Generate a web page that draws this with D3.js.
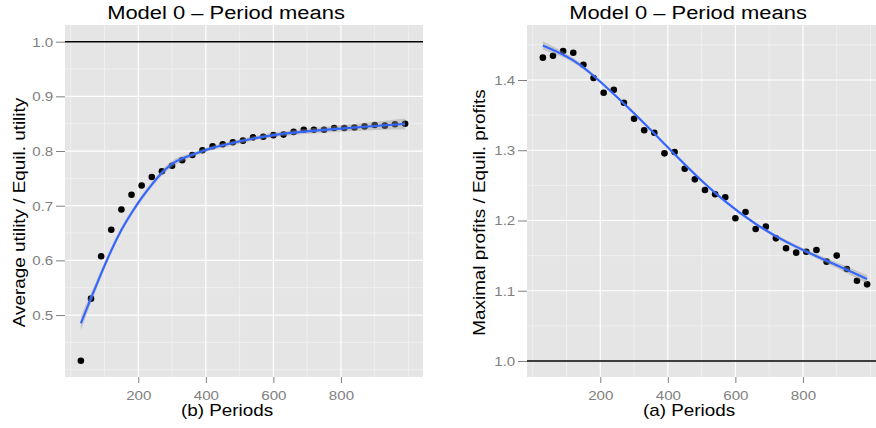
<!DOCTYPE html>
<html>
<head>
<meta charset="utf-8">
<script src="https://cdn.jsdelivr.net/npm/d3@7/dist/d3.min.js"></script>
<style>
  html, body { margin: 0; padding: 0; background: #fff; }
  svg { display: block; font-family: "Liberation Sans", Arial, Helvetica, sans-serif; }
</style>
</head>
<body>
<svg id="chart" width="876" height="428"></svg>
<script>
// ---------- data ----------
const periods = [30, 60, 90, 120, 150, 180, 210, 240, 270, 300, 330, 360, 390, 420, 450, 480, 510,
                 540, 570, 600, 630, 660, 690, 720, 750, 780, 810, 840, 870, 900, 930, 960, 990];

const utility = [0.4165, 0.530, 0.6075, 0.656, 0.693, 0.720, 0.737, 0.7525, 0.763, 0.773, 0.783,
                 0.7928, 0.8014, 0.8087, 0.8123, 0.816, 0.819, 0.825, 0.826, 0.829, 0.830, 0.835,
                 0.839, 0.839, 0.839, 0.842, 0.842, 0.843, 0.845, 0.8476, 0.8464, 0.849, 0.850];

const profits = [1.4318, 1.4346, 1.4413, 1.4389, 1.4218, 1.4028, 1.3819, 1.3862, 1.3677, 1.3449,
                 1.3284, 1.325, 1.2956, 1.2975, 1.2737, 1.2586, 1.2434, 1.2373, 1.2330, 1.2031,
                 1.2121, 1.1879, 1.1912, 1.1746, 1.1604, 1.1542, 1.1556, 1.158, 1.1414, 1.15,
                 1.131, 1.1143, 1.1091];

// fitted smooth curves and half-width of their grey bands
const smoothPeriodsU = [30, 60, 90, 120, 150, 180, 210, 240, 270, 300, 330, 360, 390, 420, 450, 480, 510, 600, 750, 900, 990];
const smoothUtility  = [0.485, 0.531, 0.576, 0.619, 0.657, 0.687, 0.715, 0.739, 0.761, 0.778, 0.787,
                        0.793, 0.800, 0.806, 0.8105, 0.8147, 0.819, 0.8306, 0.839, 0.8458, 0.8495];
const bandUtility    = [0.013, 0.009, 0.007, 0.006, 0.005, 0.005, 0.005, 0.005, 0.005, 0.006, 0.005,
                        0.004, 0.004, 0.004, 0.004, 0.004, 0.004, 0.004, 0.005, 0.007, 0.010];

const smoothPeriodsP = [30, 120, 210, 300, 390, 480, 570, 660, 750, 840, 930, 990];
const smoothProfits  = [1.449, 1.431, 1.394, 1.353, 1.309, 1.265, 1.226, 1.194, 1.169, 1.149, 1.130, 1.1165];
const bandProfits    = [0.006, 0.003, 0.002, 0.002, 0.002, 0.002, 0.002, 0.002, 0.003, 0.003, 0.005, 0.006];

const xTicks = [200, 400, 600, 800];
const xMinor = [0, 100, 300, 500, 700, 900, 1000];
const yTicksU = [0.5, 0.6, 0.7, 0.8, 0.9, 1.0];
const yMinorU = [0.4, 0.45, 0.55, 0.65, 0.75, 0.85, 0.95];
const yTicksP = [1.0, 1.1, 1.2, 1.3, 1.4];
const yMinorP = [1.05, 1.15, 1.25, 1.35, 1.45];

const titleText = "Model 0 \u2013 Period means";

// ---------- drawing ----------
const svg = d3.select("#chart");
svg.append("rect").attr("width", 876).attr("height", 428).attr("fill", "#fff");

const STRETCH = 1.18;

function label(g, text, x, y, size, rotate) {
  return g.append("text")
    .attr("transform", `translate(${x},${y})` + (rotate ? " rotate(-90)" : "") + ` scale(${STRETCH},1)`)
    .attr("text-anchor", "middle")
    .attr("font-size", size)
    .attr("fill", "#000")
    .text(text);
}

function panel(cfg) {
  const x = d3.scaleLinear().domain([-17, 1043]).range([cfg.x0, cfg.x0 + 358]);
  const y = d3.scaleLinear().domain(cfg.yDomain).range([377, 25]);
  const g = svg.append("g");
  const clipId = "clip" + cfg.id;
  svg.append("clipPath").attr("id", clipId).append("rect")
    .attr("x", cfg.x0).attr("y", 25).attr("width", 358).attr("height", 352);

  g.append("rect").attr("x", cfg.x0).attr("y", 25).attr("width", 358).attr("height", 352)
    .attr("fill", "#E5E5E5");

  const grid = g.append("g").attr("clip-path", `url(#${clipId})`);
  grid.selectAll(".vminor").data(xMinor).join("line")
    .attr("x1", d => x(d)).attr("x2", d => x(d)).attr("y1", 25).attr("y2", 377)
    .attr("stroke", "#F2F2F2").attr("stroke-width", 0.8);
  grid.selectAll(".hminor").data(cfg.yMinor).join("line")
    .attr("y1", d => y(d)).attr("y2", d => y(d)).attr("x1", cfg.x0).attr("x2", cfg.x0 + 358)
    .attr("stroke", "#F2F2F2").attr("stroke-width", 0.8);
  grid.selectAll(".vmajor").data(xTicks).join("line")
    .attr("x1", d => x(d)).attr("x2", d => x(d)).attr("y1", 25).attr("y2", 377)
    .attr("stroke", "#fff").attr("stroke-width", 1.2);
  grid.selectAll(".hmajor").data(cfg.yTicks).join("line")
    .attr("y1", d => y(d)).attr("y2", d => y(d)).attr("x1", cfg.x0).attr("x2", cfg.x0 + 358)
    .attr("stroke", "#fff").attr("stroke-width", 1.2);

  const plot = g.append("g").attr("clip-path", `url(#${clipId})`);
  // reference line
  plot.append("line").attr("x1", cfg.x0).attr("x2", cfg.x0 + 358)
    .attr("y1", y(1.0)).attr("y2", y(1.0)).attr("stroke", "#000").attr("stroke-width", 1.5);

  // points
  plot.selectAll("circle").data(periods.map((p, i) => [p, cfg.values[i]])).join("circle")
    .attr("cx", d => x(d[0])).attr("cy", d => y(d[1])).attr("r", 3.3).attr("fill", "#000");

  // smooth band + line
  const sm = cfg.smoothP.map((p, i) => ({ p, v: cfg.smoothV[i], b: cfg.band[i] }));
  plot.append("path").datum(sm)
    .attr("d", d3.area().curve(d3.curveBasis).x(d => x(d.p)).y0(d => y(d.v - d.b)).y1(d => y(d.v + d.b)))
    .attr("fill", "#999999").attr("fill-opacity", 0.4);
  plot.append("path").datum(sm)
    .attr("d", d3.line().curve(d3.curveBasis).x(d => x(d.p)).y(d => y(d.v)))
    .attr("fill", "none").attr("stroke", "#3366FF").attr("stroke-width", 2.1);

  // axes
  const ax = g.append("g").attr("transform", "translate(0,377)")
    .call(d3.axisBottom(x).tickValues(xTicks).tickFormat(d3.format("d")).tickSize(6).tickPadding(7.5));
  ax.select(".domain").remove();
  ax.selectAll("line").attr("stroke", "#7F7F7F").attr("stroke-width", 1);
  ax.selectAll("text").attr("fill", "#7F7F7F").attr("font-size", 13.5)
    .attr("font-family", "Liberation Sans, Arial, sans-serif").attr("transform", "scale(1.12,1)");

  const ay = g.append("g").attr("transform", `translate(${cfg.x0},0)`)
    .call(d3.axisLeft(y).tickValues(cfg.yTicks).tickFormat(d3.format(".1f")).tickSize(9).tickPadding(1.5));
  ay.select(".domain").remove();
  ay.selectAll("line").attr("stroke", "#7F7F7F").attr("stroke-width", 1);
  ay.selectAll("text").attr("fill", "#7F7F7F").attr("font-size", 13.5)
    .attr("font-family", "Liberation Sans, Arial, sans-serif").attr("transform", "scale(1.12,1)");

  label(svg, titleText, cfg.titleX, 18.5, 18.6, false);
  label(svg, cfg.xTitle, cfg.titleX + 1, 416, 16, false);
  label(svg, cfg.yTitle, cfg.yTitleX, 212.5, 16, true);
}

panel({
  id: "L", x0: 65, yDomain: [0.3867, 1.0305], yTicks: yTicksU, yMinor: yMinorU,
  values: utility, smoothP: smoothPeriodsU, smoothV: smoothUtility, band: bandUtility,
  titleX: 226, xTitle: "(b) Periods", yTitle: "Average utility / Equil. utility", yTitleX: 25
});
panel({
  id: "R", x0: 527, yDomain: [0.9772, 1.4783], yTicks: yTicksP, yMinor: yMinorP,
  values: profits, smoothP: smoothPeriodsP, smoothV: smoothProfits, band: bandProfits,
  titleX: 688, xTitle: "(a) Periods", yTitle: "Maximal profits / Equil. profits", yTitleX: 484.7
});
</script>
</body>
</html>
